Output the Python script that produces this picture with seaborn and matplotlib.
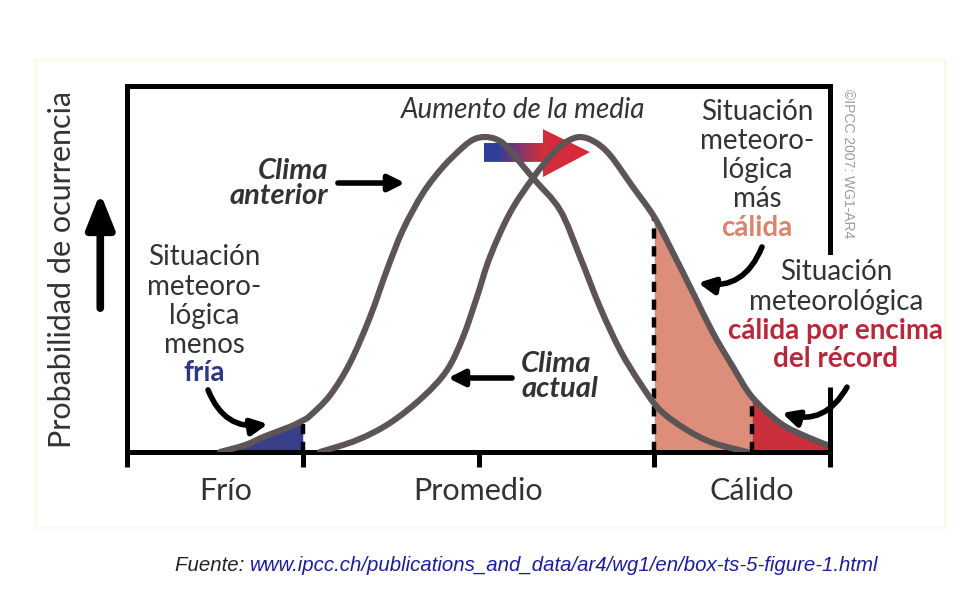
import numpy as np
import matplotlib
matplotlib.use("Agg")
import matplotlib.pyplot as plt
import seaborn as sns
from matplotlib.patches import Polygon, Rectangle, PathPatch
from matplotlib.path import Path
from matplotlib.colors import LinearSegmentedColormap

# "Clima anterior" curve (x: temperature axis 0..4, y: peak = 1)
old_x = [0.529, 0.671, 0.785, 0.927, 1.0, 1.041, 1.155, 1.269, 1.383, 1.479,
         1.570, 1.684, 1.798, 1.912, 1.975, 2.037, 2.100, 2.162, 2.310, 2.464,
         2.578, 2.691, 2.805, 2.919, 3.033, 3.186, 3.334, 3.528]
old_y = [0.0, 0.022, 0.050, 0.080, 0.100, 0.115, 0.180, 0.283, 0.429, 0.578,
         0.705, 0.822, 0.905, 0.968, 0.993, 1.0, 0.993, 0.968, 0.870, 0.768,
         0.619, 0.460, 0.324, 0.219, 0.133, 0.070, 0.029, 0.0]

# "Clima actual" curve
new_x = [1.098, 1.309, 1.496, 1.684, 1.821, 1.912, 1.991, 2.065, 2.179, 2.310,
         2.424, 2.50, 2.578, 2.66, 2.748, 2.879, 3.0, 3.107, 3.221, 3.334,
         3.448, 3.556, 3.716, 3.869, 4.0]
new_y = [0.0, 0.038, 0.092, 0.175, 0.260, 0.365, 0.492, 0.619, 0.759, 0.870,
         0.949, 0.985, 1.0, 0.985, 0.943, 0.841, 0.746, 0.632, 0.505, 0.378,
         0.270, 0.175, 0.092, 0.048, 0.019]

# thresholds on the x axis
cold_limit = 1.0
warm_limit = 3.0
record_limit = 3.556

zone_pos = [0.56, 2.0, 3.556]
zone_labels = ["Frío", "Promedio", "Cálido"]
major_ticks = [0, 1, 2, 3, 4]

CURVE = "#5c5456"
TXT = "#333333"
BLUE = "#3a3f8c"
SALMON = "#dc8e7b"
DARKRED = "#c9303b"
SALMON_TXT = "#d9846d"
RED_TXT = "#b8283b"
NAVY_TXT = "#2e3786"

sns.set_theme(style="white")
plt.rcParams["font.family"] = ["Lato", "DejaVu Sans"]

fig = plt.figure(figsize=(9.78, 6.0), dpi=100)
ax = fig.add_axes([127 / 978, 148 / 600, 703 / 978, 366 / 600])

old_x = np.array(old_x)
old_y = np.array(old_y)
new_x = np.array(new_x)
new_y = np.array(new_y)


def smooth_path(xs, ys):
    # Catmull-Rom through the read points, drawn as cubic Bezier segments
    p = np.column_stack([xs, ys])
    q = np.vstack([p[:1], p, p[-1:]])
    verts = [p[0]]
    codes = [Path.MOVETO]
    for i in range(1, len(q) - 2):
        c1 = q[i] + (q[i + 1] - q[i - 1]) / 6
        c2 = q[i + 1] - (q[i + 2] - q[i]) / 6
        verts += [c1, c2, q[i + 1]]
        codes += [Path.CURVE4] * 3
    return Path(verts, codes)


# shaded tails
ax.fill_between(old_x, old_y, where=old_x <= cold_limit, color=BLUE, lw=0, zorder=1)
ax.fill_between(new_x, new_y, where=(new_x >= warm_limit) & (new_x <= record_limit),
                color=SALMON, lw=0, zorder=1)
ax.fill_between(new_x, new_y, where=new_x >= record_limit, color=DARKRED, lw=0, zorder=1)

# dashed threshold lines
for xv, xs, ys in [(cold_limit, old_x, old_y), (warm_limit, new_x, new_y),
                   (record_limit, new_x, new_y)]:
    ax.vlines(xv, 0, np.interp(xv, xs, ys), color="black", lw=3.2,
              linestyles=(0, (2.3, 1.7)), zorder=2)

# curves
for xs, ys in [(old_x, old_y), (new_x, new_y)]:
    ax.add_patch(PathPatch(smooth_path(xs, ys), fill=False, edgecolor=CURVE,
                           lw=4.4, capstyle="round", joinstyle="round", zorder=3))

# "Aumento de la media" gradient arrow, from old mean to new mean
m_old = old_x[np.argmax(old_y)]
m_new = new_x[np.argmax(new_y)]
x0, xh, xt = m_old - 0.006, m_old + 0.33, m_new + 0.056
arrow_pts = [(x0, 0.921), (x0, 0.981), (xh, 0.981), (xh, 1.025), (xt, 0.952),
             (xh, 0.873), (xh, 0.921)]
poly = Polygon(arrow_pts, closed=True, fill=False, edgecolor="none")
ax.add_patch(poly)
grad = LinearSegmentedColormap.from_list(
    "g", [(0, "#2e3f99"), (0.12, "#2e3f99"), (0.55, "#d22f3d"), (1, "#d8283a")])
im = ax.imshow(np.linspace(0, 1, 256).reshape(1, -1), extent=(x0, xt, 0.87, 1.03),
               cmap=grad, aspect="auto", zorder=1.5, interpolation="bilinear")
im.set_clip_path(poly)

ax.set_xlim(0, 4)
ax.set_ylim(0, 1.162)

# axes frame
for side in ["left", "right", "top", "bottom"]:
    ax.spines[side].set_color("black")
    ax.spines[side].set_linewidth(3.6)
ax.spines["right"].set_bounds(0.635, 1.162)
ax.plot([4, 4], [0, 0.206], color="black", lw=3.6, clip_on=False,
        solid_capstyle="butt", zorder=4)

ax.set_yticks([])
ax.xaxis.remove_overlapping_locs = False
ax.set_xticks(major_ticks, [""] * len(major_ticks))
ax.set_xticks(zone_pos, zone_labels, minor=True)
ax.tick_params(axis="x", which="major", direction="out", length=11, width=3.6,
               color="black", bottom=True)
ax.tick_params(axis="x", which="minor", length=0, pad=18, labelsize=22,
               labelcolor=TXT, bottom=True)
ax.set_xlabel("")
ax.set_ylabel("Probabilidad de ocurrencia", fontsize=22, color=TXT, va="center")
ax.yaxis.set_label_coords(-0.092, 0.5)

# up arrow next to the y label
ax.annotate("", xy=(-0.038, 0.708), xytext=(-0.038, 0.393),
            xycoords="axes fraction", annotation_clip=False,
            arrowprops=dict(arrowstyle="-|>,head_length=0.7,head_width=0.28",
                            lw=5.5, mutation_scale=30, color="black",
                            shrinkA=0, shrinkB=0))

# texts
ax.text(2.253, 1.086, "Aumento de la media", ha="center", va="center",
        fontsize=20, style="italic", color=TXT)
ax.text(1.144, 0.852, "Clima\nanterior", ha="right", va="center", fontsize=21,
        style="italic", fontweight="bold", color=TXT, linespacing=0.95)
ax.text(2.242, 0.241, "Clima\nactual", ha="left", va="center", fontsize=21,
        style="italic", fontweight="bold", color=TXT, linespacing=0.95)


def stack(x, ys, lines):
    for y, (s, col, w) in zip(ys, lines):
        ax.text(x, y, s, ha="center", va="center", fontsize=20, color=col,
                fontweight=w, clip_on=False)


stack(0.438, [0.619, 0.524, 0.432, 0.340, 0.251],
      [("Situación", TXT, "normal"), ("meteoro-", TXT, "normal"),
       ("lógica", TXT, "normal"), ("menos", TXT, "normal"),
       ("fría", NAVY_TXT, "bold")])
stack(3.585, [1.079, 0.987, 0.895, 0.803, 0.711],
      [("Situación", TXT, "normal"), ("meteoro-", TXT, "normal"),
       ("lógica", TXT, "normal"), ("más", TXT, "normal"),
       ("cálida", SALMON_TXT, "bold")])
stack(4.034, [0.571, 0.476, 0.384, 0.295],
      [("Situación", TXT, "normal"), ("meteorológica", TXT, "normal"),
       ("cálida por encima", RED_TXT, "bold"), ("del récord", RED_TXT, "bold")])

# arrows
straight = dict(arrowstyle="-|>", lw=4, mutation_scale=24, color="black",
                shrinkA=0, shrinkB=0)
ax.annotate("", xy=(1.582, 0.854), xytext=(1.20, 0.854), arrowprops=straight)
ax.annotate("", xy=(1.826, 0.235), xytext=(2.191, 0.235), arrowprops=straight)
for start, end, rad in [((0.461, 0.197), (0.802, 0.089), 0.4),
                        ((3.613, 0.651), (3.249, 0.537), -0.4),
                        ((4.097, 0.206), (3.727, 0.124), -0.4)]:
    ax.annotate("", xy=end, xytext=start, annotation_clip=False,
                arrowprops=dict(straight, connectionstyle=f"arc3,rad={rad}"))

# copyright and source
fig.text(0.867, 0.727, "©IPCC 2007: WG1-AR4", rotation=-90, ha="center",
         va="center", fontsize=10, color="#9a9a9a", family="Liberation Sans")
narrow = ["Liberation Sans Narrow", "Liberation Sans"]
t1 = fig.text(0.179, 0.0567, "Fuente: ", style="italic", family=narrow,
              fontsize=14.7, color="#222222", va="center")
ax.annotate("www.ipcc.ch/publications_and_data/ar4/wg1/en/box-ts-5-figure-1.html",
            xy=(1, 0.5), xycoords=t1, va="center", ha="left", style="italic",
            family=narrow, fontsize=14.7, color="#1c1c9c", annotation_clip=False)

# faint panel border
fig.add_artist(Rectangle((0.0358, 0.1217), 0.9305, 0.778, transform=fig.transFigure,
                         fill=False, edgecolor="#fcf9ee", lw=2, zorder=0))

fig.savefig("out.png", dpi=100)
